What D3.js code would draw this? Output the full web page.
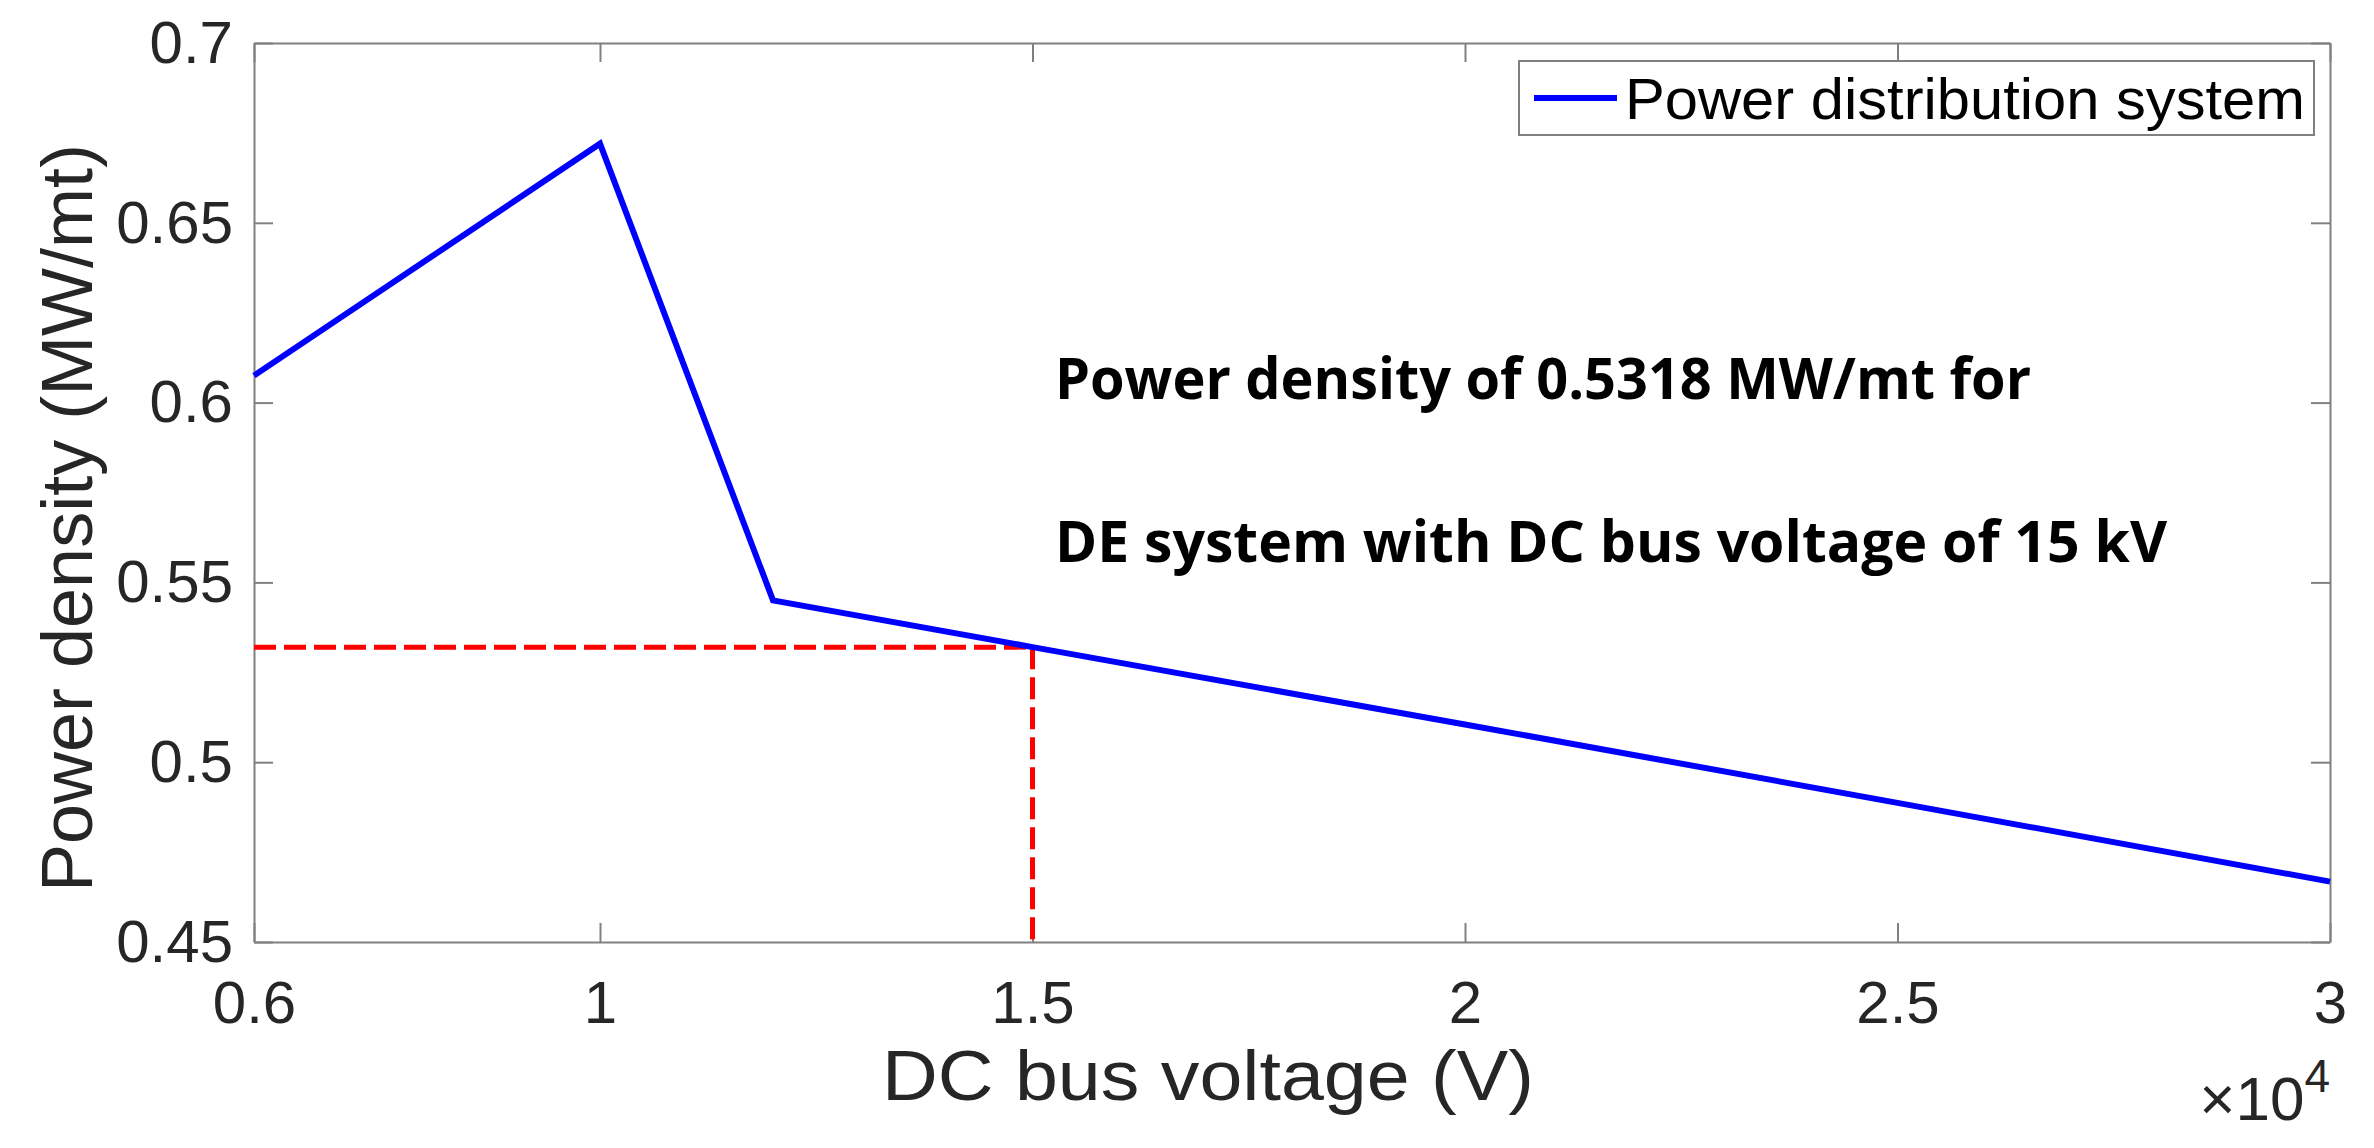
<!DOCTYPE html>
<html>
<head>
<meta charset="utf-8">
<script src="https://cdn.jsdelivr.net/npm/d3@7"></script>
<style>
  body { margin: 0; background: #fff; }
  .axis text { font-family: "Liberation Sans", Arial, sans-serif; fill: #262626; }
  .axis path, .axis line { stroke: #808080; stroke-width: 2; }
</style>
</head>
<body>
<script>
// chart data (x in volts, y in MW/mt)
var voltage = [6000, 10000, 12000, 15000, 20000, 25000, 30000];
var density = [0.6075, 0.672, 0.545, 0.532, 0.5105, 0.4887, 0.4668];

// the highlighted operating point
var markVoltage = 15000,
    markDensity = 0.532;

var xTicks = [6000, 10000, 15000, 20000, 25000, 30000];
var xTickLabels = ['0.6', '1', '1.5', '2', '2.5', '3'];
var yTicks = [0.45, 0.5, 0.55, 0.6, 0.65, 0.7];
var yTickLabels = ['0.45', '0.5', '0.55', '0.6', '0.65', '0.7'];

var seriesName = 'Power distribution system';
var noteLines = ['Power density of 0.5318 MW/mt for',
                 'DE system with DC bus voltage of 15 kV'];

// SET UP DIMENSIONS
var W = 2374, H = 1148;
var margin = {top: 43, right: 44, bottom: 206, left: 254};
var w = W - margin.left - margin.right,
    h = H - margin.top - margin.bottom;

var svg = d3.select('body').append('svg')
  .attr('width', W)
  .attr('height', H)
  .append('g')
    .attr('transform', translation(margin.left, margin.top));

// SCALES
var x = d3.scaleLinear().domain([6000, 30000]).range([0, w]);
var y = d3.scaleLinear().domain([0.45, 0.7]).range([h, 0]);

var tick = 19;

// AXES (ticks point inward, mirrored on top and right like a boxed plot)
svg.append('g')
  .attr('class', 'axis x')
  .attr('transform', translation(0, h))
  .call(d3.axisBottom(x).tickValues(xTicks)
    .tickFormat(function(d, i) { return xTickLabels[i]; })
    .tickSizeInner(-tick).tickSizeOuter(0).tickPadding(38))
  .selectAll('text').style('font-size', '60px');

svg.append('g')
  .attr('class', 'axis x top')
  .call(d3.axisTop(x).tickValues(xTicks).tickFormat('')
    .tickSizeInner(-tick).tickSizeOuter(0));

svg.append('g')
  .attr('class', 'axis y')
  .call(d3.axisLeft(y).tickValues(yTicks)
    .tickFormat(function(d, i) { return yTickLabels[i]; })
    .tickSizeInner(-tick).tickSizeOuter(0).tickPadding(21))
  .selectAll('text').style('font-size', '60px');

svg.append('g')
  .attr('class', 'axis y right')
  .attr('transform', translation(w, 0))
  .call(d3.axisRight(y).tickValues(yTicks).tickFormat('')
    .tickSizeInner(-tick).tickSizeOuter(0));

// axis titles
svg.append('text')
  .attr('x', 1208 - margin.left)
  .attr('y', h + 158)
  .attr('text-anchor', 'middle')
  .attr('textLength', 652)
  .attr('lengthAdjust', 'spacingAndGlyphs')
  .style('font-family', '"Liberation Sans", Arial, sans-serif')
  .style('font-size', '70px')
  .style('fill', '#262626')
  .text('DC bus voltage (V)');

svg.append('text')
  .attr('transform', translation(-162, 518 - margin.top) + 'rotate(-90)')
  .attr('text-anchor', 'middle')
  .style('font-family', '"Liberation Sans", Arial, sans-serif')
  .style('font-size', '72px')
  .style('fill', '#262626')
  .text('Power density (MW/mt)');

// exponent label
var expo = svg.append('text')
  .attr('x', w)
  .attr('y', h + 178)
  .attr('text-anchor', 'end')
  .style('font-family', '"Liberation Sans", Arial, sans-serif')
  .style('font-size', '62px')
  .style('fill', '#262626');
expo.append('tspan').text('\u00d710');
expo.append('tspan').attr('dy', -28).style('font-size', '46px').text('4');

// DASHED GUIDES
var guide = svg.append('g')
  .attr('fill', 'none')
  .attr('stroke', '#ff0000')
  .attr('stroke-width', 5)
  .attr('stroke-dasharray', '22,8');

guide.append('line')
  .attr('x1', x(6000)).attr('x2', x(markVoltage))
  .attr('y1', y(markDensity)).attr('y2', y(markDensity));
guide.append('line')
  .attr('x1', x(markVoltage)).attr('x2', x(markVoltage))
  .attr('y1', y(markDensity)).attr('y2', y(0.45));

// MAIN LINE
var line = d3.line()
  .x(function(d) { return x(d[0]); })
  .y(function(d) { return y(d[1]); });

svg.append('path')
  .datum(d3.zip(voltage, density))
  .attr('fill', 'none')
  .attr('stroke', '#0000ff')
  .attr('stroke-width', 6)
  .attr('stroke-linejoin', 'miter')
  .attr('d', line);

// ANNOTATION
svg.selectAll('.note')
  .data(noteLines)
  .enter().append('text')
    .attr('class', 'note')
    .attr('x', 1055 - margin.left)
    .attr('y', function(d, i) { return 399 - margin.top + i * 163; })
    .attr('textLength', function(d, i) { return i === 0 ? 976 : 1112; })
    .attr('lengthAdjust', 'spacingAndGlyphs')
    .style('font-family', '"Open Sans", sans-serif')
    .style('font-weight', 'bold')
    .style('font-size', '58px')
    .style('fill', '#000')
    .text(function(d) { return d; });

// LEGEND
var legend = svg.append('g')
  .attr('transform', translation(1519 - margin.left, 61 - margin.top));

legend.append('rect')
  .attr('width', 795)
  .attr('height', 74)
  .attr('fill', '#fff')
  .attr('stroke', '#808080')
  .attr('stroke-width', 2);

legend.append('line')
  .attr('x1', 15).attr('x2', 98)
  .attr('y1', 37).attr('y2', 37)
  .attr('stroke', '#0000ff')
  .attr('stroke-width', 6);

legend.append('text')
  .attr('x', 106)
  .attr('y', 37)
  .attr('dy', '0.36em')
  .attr('textLength', 680)
  .attr('lengthAdjust', 'spacingAndGlyphs')
  .style('font-family', '"Liberation Sans", Arial, sans-serif')
  .style('font-size', '57px')
  .style('fill', '#000')
  .text(seriesName);

function translation(x, y) {
  return 'translate(' + x + ',' + y + ')';
}
</script>
</body>
</html>
